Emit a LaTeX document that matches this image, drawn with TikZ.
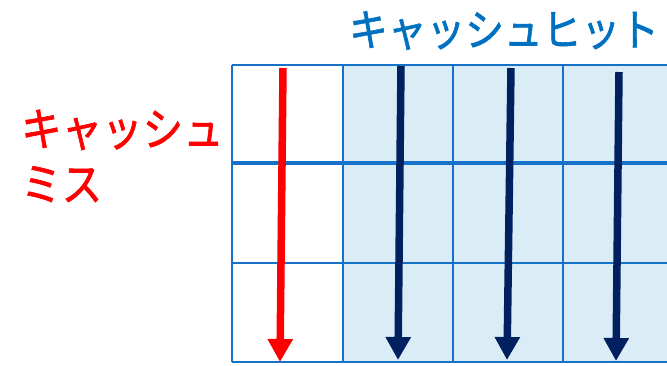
\documentclass[tikz,border=0pt]{standalone}
\usepackage{fontspec}
\newfontfamily\jpfont[FakeStretch=0.88,FakeBold=1.3]{Noto Sans CJK JP}
\usetikzlibrary{arrows.meta}
\definecolor{gridblue}{RGB}{22,114,200}
\definecolor{cellfill}{RGB}{218,237,247}
\definecolor{hitblue}{RGB}{0,112,192}
\definecolor{missred}{RGB}{255,0,0}
\definecolor{navy}{RGB}{0,32,96}
\tikzset{
  gridline/.style={draw=gridblue, line width=2.5pt},
  thickline/.style={draw=gridblue, line width=4.5pt},
  accessarrow/.style={line width=7.5pt, -{Triangle[width=24pt,length=23pt]}},
  jptext/.style={inner sep=0pt}
}
\begin{document}
\begin{tikzpicture}[x=1pt,y=-1pt]
\useasboundingbox (0,0) rectangle (667,365);
% light blue cells
\fill[cellfill] (343,65) rectangle (680,362);
% grid
\draw[gridline] (232,65) -- (680,65);
\draw[gridline] (232,263) -- (680,263);
\draw[gridline] (232,362) -- (680,362);
\draw[thickline] (232,163) -- (680,163);
\foreach \x in {232,343,453,563} \draw[gridline] (\x,65) -- (\x,362);
% arrow end points
\coordinate (r1) at (283,68);  \coordinate (r2) at (280,362);
\coordinate (h1a) at (401,66); \coordinate (h1b) at (398,360);
\coordinate (h2a) at (511,68); \coordinate (h2b) at (507,360);
\coordinate (h3a) at (619,72); \coordinate (h3b) at (616,361);
\draw[accessarrow, missred] (r1) -- (r2);
\draw[accessarrow, navy] (h1a) -- (h1b);
\draw[accessarrow, navy] (h2a) -- (h2b);
\draw[accessarrow, navy] (h3a) -- (h3b);
% labels
\node[jptext, font=\jpfont\fontsize{44pt}{50pt}\selectfont, text=hitblue, anchor=base] (hit) at (504,46) {キャッシュヒット};
\node[jptext, font=\jpfont\fontsize{46pt}{52pt}\selectfont, text=missred, anchor=base west] (miss1) at (21,146) {キャッシュ};
\node[jptext, font=\jpfont\fontsize{46pt}{52pt}\selectfont, text=missred, anchor=base west] (miss2) at (21,201) {ミス};
\end{tikzpicture}
\end{document}
